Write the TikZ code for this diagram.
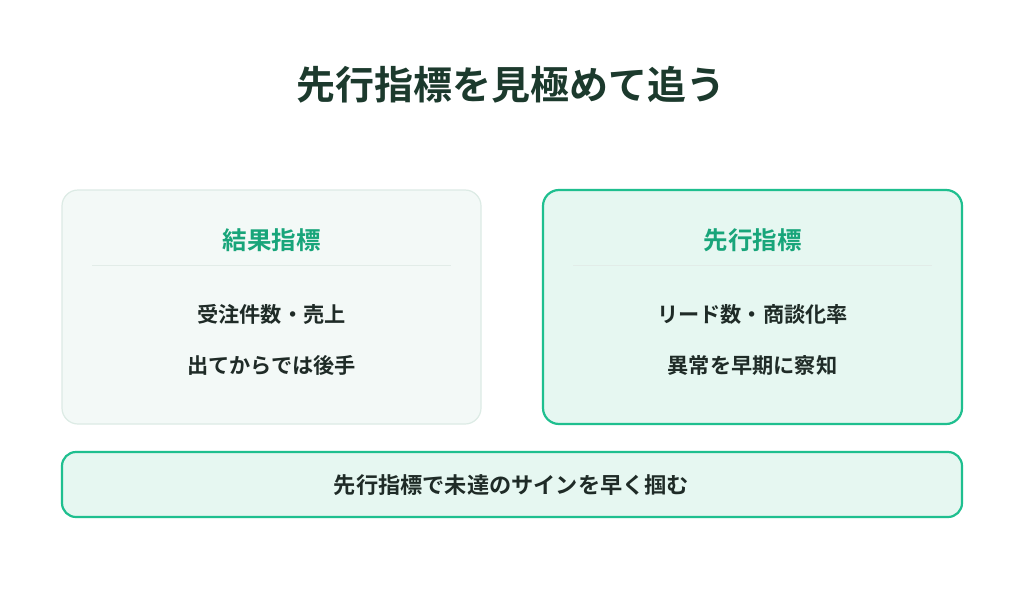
\documentclass[tikz,border=0pt]{standalone}
\usepackage{fontspec}
\setmainfont{Noto Sans CJK JP}[BoldFont={* Bold}]
\usepackage{tikz}

\definecolor{titlegreen}{HTML}{1C3A2D}
\definecolor{headgreen}{HTML}{18A57A}
\definecolor{bodytext}{HTML}{1F2B27}
\definecolor{accent}{HTML}{1FBF8F}
\definecolor{paleline}{HTML}{DCEBE5}
\definecolor{palefill}{HTML}{F3F9F7}
\definecolor{mintfill}{HTML}{E6F7F1}
\definecolor{rulecol}{HTML}{E2ECE8}

\begin{document}
\begin{tikzpicture}[x=1pt,y=-1pt]
\tikzstyle{every node}+=[inner sep=0pt]
\tikzstyle{card}=[rounded corners=16pt]
\tikzstyle{headtext}=[text=headgreen,font=\fontsize{24.5}{28}\selectfont\bfseries]
\tikzstyle{bodyline}=[text=bodytext,font=\fontsize{21.2}{25}\selectfont\bfseries]
\useasboundingbox (0,0) rectangle (1024,594);
\fill [white] (0,0) rectangle (1024,594);
% title
\node (title) at (511,85) [text=titlegreen,font=\fontsize{39}{45}\selectfont\bfseries] {先行指標を見極めて追う};
% left card
\draw [card,fill=palefill,draw=paleline,line width=1.2pt] (62,190) rectangle (481,424);
\node (lhead) at (271.5,240) [headtext] {結果指標};
\draw [rulecol,line width=1pt] (92,265) -- (451,265);
\node (lone) at (271.5,314) [bodyline] {受注件数・売上};
\node (ltwo) at (271.5,365) [bodyline] {出てからでは後手};
% right card
\draw [card,fill=mintfill,draw=accent,line width=2.2pt] (543,190) rectangle (962,424);
\node (rhead) at (752.5,240) [headtext] {先行指標};
\draw [rulecol,line width=1pt] (573,265) -- (932,265);
\node (rone) at (752.5,314) [bodyline] {リード数・商談化率};
\node (rtwo) at (752.5,365) [bodyline] {異常を早期に察知};
% bottom banner
\draw [card,rounded corners=14pt,fill=mintfill,draw=accent,line width=2.2pt] (62,452) rectangle (962,517);
\node (banner) at (511.5,485) [text=bodytext,font=\fontsize{22.2}{26}\selectfont\bfseries] {先行指標で未達のサインを早く掴む};
\end{tikzpicture}
\end{document}
